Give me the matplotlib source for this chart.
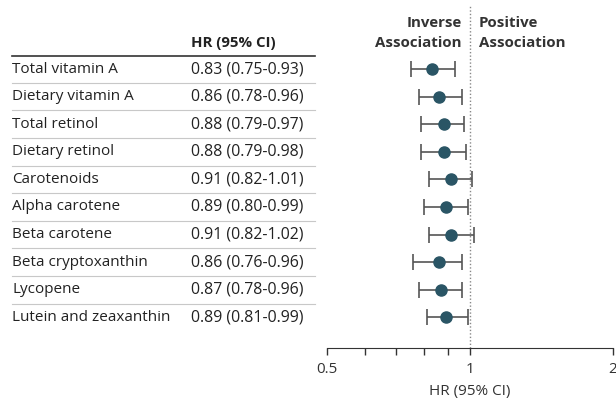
import matplotlib.pyplot as plt
import matplotlib.transforms as mtransforms
from matplotlib.ticker import FixedLocator, NullFormatter
import numpy as np

plt.rcParams['font.family'] = ['Open Sans', 'DejaVu Sans']

names = ['Total vitamin A', 'Dietary vitamin A', 'Total retinol', 'Dietary retinol',
         'Carotenoids', 'Alpha carotene', 'Beta carotene', 'Beta cryptoxanthin',
         'Lycopene', 'Lutein and zeaxanthin']
hr = [0.83, 0.86, 0.88, 0.88, 0.91, 0.89, 0.91, 0.86, 0.87, 0.89]
lo = [0.75, 0.78, 0.79, 0.79, 0.82, 0.80, 0.82, 0.76, 0.78, 0.81]
hi = [0.93, 0.96, 0.97, 0.98, 1.01, 0.99, 1.02, 0.96, 0.96, 0.99]

fig = plt.figure(figsize=(6.16, 4.0), dpi=100)
ax = fig.add_axes([327 / 616, 1 - 348 / 400, 286 / 616, 343 / 400])

y = np.arange(len(names))
hr_a = np.array(hr)
err = [hr_a - np.array(lo), np.array(hi) - hr_a]

ax.errorbar(hr, y, xerr=err, fmt='none', ecolor='#555555', elinewidth=1.2,
            capsize=6, capthick=1.2, zorder=2)
ax.plot(hr, y, 'o', color='#2a5565', markersize=8, zorder=3)

ax.set_xscale('log')
ax.set_xlim(0.5, 2)
ax.set_ylim(10.11, -2.32)
ax.axvline(1, color='#888888', linestyle=(0, (1, 1.5)), linewidth=1, zorder=1)

ax.xaxis.set_major_locator(FixedLocator([0.5, 1, 2]))
ax.set_xticklabels(['0.5', '1', '2'])
ax.xaxis.set_minor_locator(FixedLocator([0.6, 0.7, 0.8, 0.9]))
ax.xaxis.set_minor_formatter(NullFormatter())
ax.tick_params(axis='x', which='both', length=5, width=1, color='#333333',
               labelsize=11, labelcolor='#333333', pad=5)
ax.set_yticks([])
for s in ['top', 'right', 'left']:
    ax.spines[s].set_visible(False)
ax.spines['bottom'].set_color('#333333')
ax.set_xlabel('HR (95% CI)', fontsize=11, color='#333333', labelpad=5)

hdr = dict(fontsize=10.8, fontweight='bold', color='#333333', va='center')
ax.text(0.96, -1.67, 'Inverse', ha='right', **hdr)
ax.text(0.96, -0.94, 'Association', ha='right', **hdr)
ax.text(1.045, -1.67, 'Positive', ha='left', **hdr)
ax.text(1.045, -0.94, 'Association', ha='left', **hdr)

# table on the left, x in figure coords, y in data coords
tr = mtransforms.blended_transform_factory(fig.transFigure, ax.transData)
x_name = 12 / 616
x_val = 191 / 616
x_end = 315 / 616

ax.text(x_val, -0.94, 'HR (95% CI)', transform=tr, ha='left', va='center',
        fontsize=10.8, fontweight='bold', color='#222222')
ax.plot([x_name, x_end], [-0.47, -0.47], transform=tr, color='#333333',
        linewidth=1.2, clip_on=False)

for i, (n, h, l, u) in enumerate(zip(names, hr, lo, hi)):
    ax.text(x_name, i, n, transform=tr, ha='left', va='center', fontsize=11,
            color='#222222')
    ax.text(x_val, i, f'{h:.2f} ({l:.2f}-{u:.2f})', transform=tr, ha='left',
            va='center', fontsize=11.4, color='#222222')
    if i < len(names) - 1:
        ax.plot([x_name, x_end], [i + 0.5, i + 0.5], transform=tr,
                color='#c8c8c8', linewidth=0.8, clip_on=False)

fig.savefig('out.png', dpi=100)
